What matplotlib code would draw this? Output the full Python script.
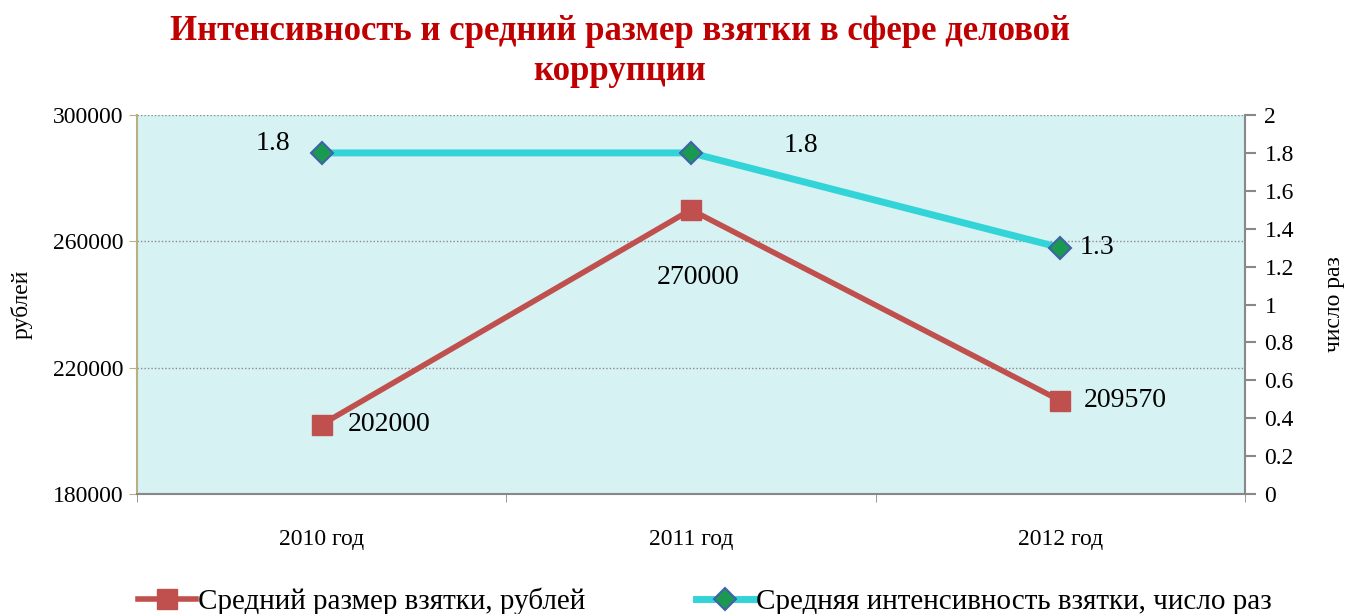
import numpy as np
import matplotlib.pyplot as plt
from matplotlib.ticker import FixedLocator

plt.rcParams['font.family'] = ['Liberation Serif', 'DejaVu Serif']

years = ['2010 год', '2011 год', '2012 год']
bribe_size = [202000, 270000, 209570]
intensity = [1.8, 1.8, 1.3]

bribe_labels = ['202000', '270000', '209570']
intensity_labels = ['1.8', '1.8', '1.3']

left_ticks = [180000, 220000, 260000, 300000]
right_ticks = [0, 0.2, 0.4, 0.6, 0.8, 1, 1.2, 1.4, 1.6, 1.8, 2]
right_tick_labels = ['0', '0.2', '0.4', '0.6', '0.8', '1', '1.2', '1.4', '1.6', '1.8', '2']

red = '#c0504d'
cyan = '#33d4d8'
fs = 17
lfs = 20

fig = plt.figure(figsize=(13.48, 6.14), dpi=100)
ax = fig.add_axes([0.1016, 0.1954, 0.822, 0.6173])
ax2 = ax.twinx()

x = np.arange(len(years))

ax.set_facecolor('#d6f2f3')
ax.set_xlim(-0.5, 2.5)
ax.set_ylim(180000, 300000)
ax.yaxis.set_major_locator(FixedLocator(left_ticks))
ax.grid(axis='y', linestyle=(0, (1, 1.5)), color='#8a8a8a', linewidth=1)
ax.set_axisbelow(True)

ax.set_xticks(x)
ax.set_xticklabels(years, fontsize=fs)
ax.xaxis.set_minor_locator(FixedLocator([-0.5, 0.5, 1.5, 2.5]))
ax.tick_params(axis='x', which='major', length=0, pad=25)
ax.tick_params(axis='x', which='minor', length=6, color='#888888', direction='out')
ax.tick_params(axis='y', labelsize=fs, length=6, color='#b8b080', pad=4)

for s in ['top', 'right']:
    ax.spines[s].set_visible(False)
ax.spines['left'].set_color('#b8b080')
ax.spines['left'].set_linewidth(1.5)
ax.spines['bottom'].set_color('#888888')
ax.spines['bottom'].set_linewidth(1.5)

ax.set_ylabel('рублей', fontsize=fs)
ax.yaxis.set_label_coords(-0.094, 0.5)

l1, = ax.plot(x, bribe_size, color=red, linewidth=4, marker='s', markersize=15,
              markerfacecolor=red, markeredgecolor=red, zorder=3,
              label='Средний размер взятки, рублей')

ax2.set_ylim(0, 2)
ax2.set_yticks(right_ticks)
ax2.set_yticklabels(right_tick_labels)
ax2.tick_params(axis='y', labelsize=fs, length=8, color='#888888', width=1.5, pad=6)
for s in ['top', 'left', 'bottom']:
    ax2.spines[s].set_visible(False)
ax2.spines['right'].set_color('#888888')
ax2.spines['right'].set_linewidth(1.5)
ax2.set_ylabel('число раз', fontsize=fs, rotation=90)
ax2.yaxis.set_label_coords(1.071, 0.5)

l2, = ax2.plot(x, intensity, color=cyan, linewidth=5, marker='D', markersize=11,
               markerfacecolor='#1a9a50', markeredgecolor='#3f62a8',
               markeredgewidth=1.5, zorder=3,
               label='Средняя интенсивность взятки, число раз')

# data labels
ax.annotate(bribe_labels[0], (x[0], bribe_size[0]), xytext=(19, 0),
            textcoords='offset points', fontsize=lfs, va='center', ha='left')
ax.annotate(bribe_labels[1], (x[1], bribe_size[1]), xytext=(5, -49),
            textcoords='offset points', fontsize=lfs, va='center', ha='center')
ax.annotate(bribe_labels[2], (x[2], bribe_size[2]), xytext=(17, 0),
            textcoords='offset points', fontsize=lfs, va='center', ha='left')
ax2.annotate(intensity_labels[0], (x[0], intensity[0]), xytext=(-35, 7),
             textcoords='offset points', fontsize=lfs, va='center', ha='center')
ax2.annotate(intensity_labels[1], (x[1], intensity[1]), xytext=(79, 5),
             textcoords='offset points', fontsize=lfs, va='center', ha='center')
ax2.annotate(intensity_labels[2], (x[2], intensity[2]), xytext=(14, 0),
             textcoords='offset points', fontsize=lfs, va='center', ha='left')

fig.text(0.46, 0.975, 'Интенсивность и средний размер взятки в сфере деловой\nкоррупции',
         ha='center', va='top', fontsize=25, fontweight='bold', color='#c00000',
         linespacing=1.25)

fig.legend(handles=[l1, l2], loc='lower left', bbox_to_anchor=(0.083, -0.045),
           ncol=2, frameon=False, fontsize=21, columnspacing=3.8,
           handlelength=2.0, handletextpad=0.05)

fig.savefig('out.png', dpi=100)
